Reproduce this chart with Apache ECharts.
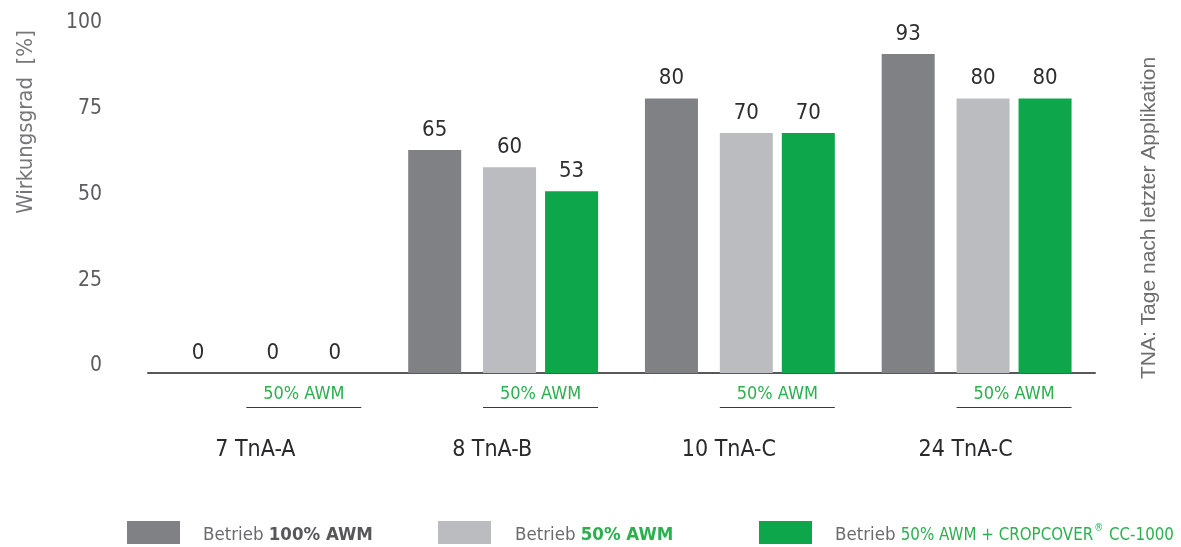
<!DOCTYPE html>
<html>
<head>
<meta charset="utf-8">
<title>Wirkungsgrad</title>
<script src="https://cdn.jsdelivr.net/npm/echarts@6/dist/echarts.min.js"></script>
<style>
  html, body { margin: 0; padding: 0; background: #ffffff; }
  #chart { width: 1181px; height: 547px; }
</style>
</head>
<body>
<div id="chart"></div>
<script>
// Days after last application, per trial site
const categories = ['7 TnA-A', '8 TnA-B', '10 TnA-C', '24 TnA-C'];
// Efficacy in percent
const full100 = [0, 65, 80, 93];
const half50 = [0, 60, 70, 80];
const half50Cropcover = [0, 53, 70, 80];
// Tick values of the efficacy axis
const yTicks = [0, 25, 50, 75, 100];
// Annotation under each pair of 50 % bars
const pairNotes = ['50% AWM', '50% AWM', '50% AWM', '50% AWM'];

const FONT = '"Liberation Sans Narrow", "DejaVu Sans Condensed", "Roboto", sans-serif';
const C_DARK = '#808185';
const C_LIGHT = '#bbbcc0';
const C_GREEN = '#0ea64a';
const T_GREEN = '#2bb04f';

const BAR_W = 53;
const GAP = 9 / 53;       // gap after each bar, relative to its width
const SPACER_W = 11;      // extra room between the 100 % bar and the 50 % pair

// offsets of the pair (light + green) relative to the band centre
const spanW = BAR_W * (1 + GAP) + SPACER_W * (1 + GAP) + BAR_W * (1 + GAP) + BAR_W;
const pairLeft = -spanW / 2 + BAR_W * (1 + GAP) + SPACER_W * (1 + GAP);
const pairRight = spanW / 2;

const chart = echarts.init(document.getElementById('chart'));

const valueLabel = {
  show: true,
  position: 'top',
  distance: 9,
  fontFamily: FONT,
  fontSize: 22,
  color: '#2e2e30'
};

const LEG_FS = 18.5;

function legendFor(name, left, rich, fmt) {
  return {
    data: [name],
    left: left,
    top: 516,
    icon: 'rect',
    itemWidth: 53,
    itemHeight: 23,
    selectedMode: false,
    formatter: fmt,
    textStyle: {
      fontFamily: FONT,
      fontSize: LEG_FS,
      color: '#6b6b6e',
      rich: rich
    }
  };
}

chart.setOption({
  animation: false,
  backgroundColor: '#ffffff',
  grid: { left: 148, right: 86, top: 30, bottom: 174 },
  xAxis: {
    type: 'category',
    data: categories,
    axisLine: { lineStyle: { color: '#58585a', width: 2 } },
    axisTick: { show: false },
    axisLabel: {
      margin: 66,
      fontFamily: FONT,
      fontSize: 23,
      color: '#2a2a2c',
      padding: [0, 22, 0, 0]
    }
  },
  yAxis: {
    type: 'value',
    min: yTicks[0],
    max: yTicks[yTicks.length - 1],
    interval: 25,
    axisLine: { show: false },
    axisTick: { show: false },
    splitLine: { show: false },
    axisLabel: {
      margin: 46,
      fontFamily: FONT,
      fontSize: 21,
      color: '#5c5c5f',
      verticalAlign: 'bottom',
      lineHeight: 14
    }
  },
  legend: [
    legendFor('Betrieb 100% AWM', 122,
      { a: { fontFamily: FONT, fontSize: LEG_FS, color: '#6b6b6e', padding: [6, 0, 0, 18] },
        b: { fontFamily: FONT, fontSize: LEG_FS, color: '#58585b', fontWeight: 'bold', padding: [6, 0, 0, 0] } },
      () => '{a|Betrieb} {b|100% AWM}'),
    legendFor('Betrieb 50% AWM', 433,
      { a: { fontFamily: FONT, fontSize: LEG_FS, color: '#6b6b6e', padding: [6, 0, 0, 19] },
        b: { fontFamily: FONT, fontSize: LEG_FS, color: T_GREEN, fontWeight: 'bold', padding: [6, 0, 0, 0] } },
      () => '{a|Betrieb} {b|50% AWM}'),
    legendFor('Betrieb 50% AWM + CROPCOVER® CC-1000', 754,
      { a: { fontFamily: FONT, fontSize: LEG_FS, color: '#6b6b6e', padding: [6, 0, 0, 18] },
        b: { fontFamily: FONT, fontSize: 16.8, color: T_GREEN, padding: [6, 0, 0, 0] },
        r: { fontFamily: FONT, fontSize: 10, color: T_GREEN, padding: [0, 1, 8, 1] } },
      () => '{a|Betrieb} {b|50% AWM + CROPCOVER}{r|®}{b| CC-1000}')
  ],
  graphic: [
    {
      type: 'text',
      x: 26,
      y: 122,
      rotation: Math.PI / 2,
      style: {
        text: 'Wirkungsgrad  [%]',
        fontFamily: FONT,
        fontSize: 22,
        fill: '#77777a',
        align: 'center',
        verticalAlign: 'middle'
      }
    },
    {
      type: 'text',
      x: 1149,
      y: 218,
      rotation: Math.PI / 2,
      style: {
        text: 'TNA: Tage nach letzter Applikation',
        fontFamily: '"Liberation Sans", Arial, sans-serif',
        fontSize: 21,
        fill: '#6e6e70',
        align: 'center',
        verticalAlign: 'middle'
      }
    }
  ],
  series: [
    {
      name: 'Betrieb 100% AWM',
      type: 'bar',
      data: full100,
      barWidth: BAR_W,
      barGap: (GAP * 100) + '%',
      itemStyle: { color: C_DARK },
      label: valueLabel
    },
    {
      name: 'spacer',
      type: 'bar',
      data: full100.map(() => '-'),
      barWidth: SPACER_W,
      barGap: (GAP * 100) + '%',
      silent: true,
      itemStyle: { color: 'transparent' }
    },
    {
      name: 'Betrieb 50% AWM',
      type: 'bar',
      data: half50,
      barWidth: BAR_W,
      barGap: (GAP * 100) + '%',
      itemStyle: { color: C_LIGHT },
      label: valueLabel
    },
    {
      name: 'Betrieb 50% AWM + CROPCOVER® CC-1000',
      type: 'bar',
      data: half50Cropcover,
      barWidth: BAR_W,
      barGap: (GAP * 100) + '%',
      itemStyle: { color: C_GREEN },
      label: valueLabel
    },
    {
      // "50% AWM" note with underline beneath each pair of half-rate bars
      name: 'pairNotes',
      type: 'custom',
      silent: true,
      z: 5,
      data: pairNotes.map((t, i) => [i, 0]),
      renderItem: function (params, api) {
        const base = api.coord([api.value(0), api.value(1)]);
        const x0 = base[0] + pairLeft;
        const x1 = base[0] + pairRight;
        return {
          type: 'group',
          children: [
            {
              type: 'text',
              style: {
                text: pairNotes[params.dataIndex],
                x: (x0 + x1) / 2,
                y: base[1] + 21,
                align: 'center',
                verticalAlign: 'middle',
                fontFamily: FONT,
                fontSize: 18,
                fill: T_GREEN
              }
            },
            {
              type: 'line',
              shape: { x1: x0, y1: base[1] + 34.5, x2: x1, y2: base[1] + 34.5 },
              style: { stroke: '#3a3a3c', lineWidth: 1 }
            }
          ]
        };
      }
    }
  ]
});
</script>
</body>
</html>
